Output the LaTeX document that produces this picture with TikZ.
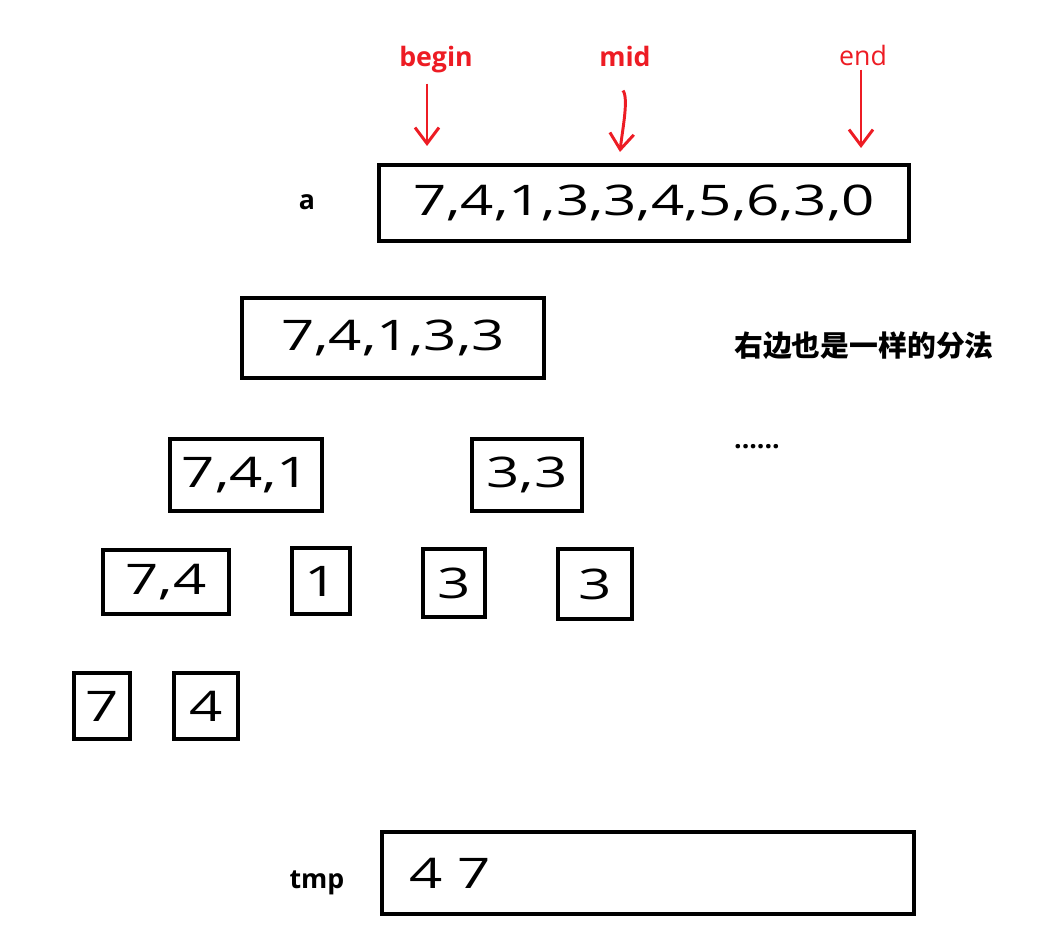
\documentclass[tikz,border=0pt]{standalone}
\usepackage{fontspec}
\setmainfont{Open Sans}
\newfontfamily\cjk{Noto Sans CJK SC}
\newfontfamily\digits[FakeStretch=1.38]{Open Sans}
\usetikzlibrary{arrows.meta}
\definecolor{paintred}{RGB}{237,28,36}

\begin{document}
\begin{tikzpicture}[x=0.025cm,y=-0.025cm,
  cell/.style={draw,line width=2.8pt,inner sep=0pt,font=\digits\fontsize{30}{30}\selectfont},
  tag/.style={font=\bfseries\fontsize{19}{19}\selectfont,inner sep=0pt,anchor=base},
  ptr/.style={paintred,line width=2.1pt,-{Straight Barb[length=4mm,width=6mm]}}]
  \useasboundingbox (0,0) rectangle (1060,938);
  % pointers into the array
  \node[tag,text=paintred] (begin) at (436,67) {begin};
  \node[tag,text=paintred] (mid) at (625,67) {mid};
  \node[tag,text=paintred,font=\fontsize{19}{19}\selectfont] (end) at (863,66) {end};
  \coordinate (begtip) at (427,146);
  \coordinate (midtip) at (620,152);
  \coordinate (endtip) at (861,148);
  \draw[ptr,shorten <=0.25cm] (begin.south -| begtip) -- (begtip);
  \draw[ptr] (mid.south) ++(-2,23) .. controls +(6,8) and +(2,-20) .. (midtip);
  \draw[ptr,shorten <=0.08cm] (end.south -| endtip) -- (endtip);
  % the array and its halves
  \node[tag] (alabel) at (307,210) {a};
  \node[cell,minimum width=13.23cm,minimum height=1.88cm] (arr) at (644,203) {7,4,1,3,3,4,5,6,3,0};
  \node[cell,minimum width=7.53cm,minimum height=2cm] (left) at (393,338) {7,4,1,3,3};
  \node[cell,minimum width=3.8cm,minimum height=1.78cm] (ll) at (246,475) {7,4,1};
  \node[cell,minimum width=2.75cm,minimum height=1.78cm] (lr) at (527,475) {3,3};
  \node[cell,minimum width=3.13cm,minimum height=1.58cm] (lll) at (166,582) {7,4};
  \node[cell,minimum width=1.43cm,minimum height=1.63cm] (llr) at (321,581) {1};
  \node[cell,minimum width=1.53cm,minimum height=1.7cm] (lrl) at (454,583) {3};
  \node[cell,minimum width=1.85cm,minimum height=1.73cm] (lrr) at (595,584) {3};
  \node[cell,minimum width=1.4cm,minimum height=1.65cm] (s7) at (102,706) {7};
  \node[cell,minimum width=1.6cm,minimum height=1.65cm] (s4) at (206,706) {4};
  % note on the right half
  \node[font=\cjk\bfseries\fontsize{20.5}{20.5}\selectfont] (note) at (864,346) {右边也是一样的分法};
  \node[tag] (more) at (757,448) {......};
  % temporary array
  \node[tag] (tmplabel) at (317,888) {tmp};
  \node[cell,inner xsep=0.7cm,text width=11.9cm,align=left,minimum height=2.03cm] (tmp) at (648,873) {4 7};
\end{tikzpicture}
\end{document}
